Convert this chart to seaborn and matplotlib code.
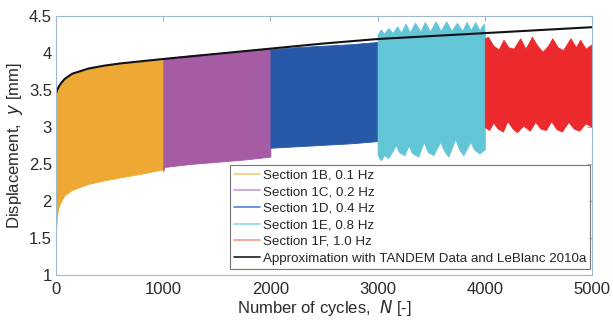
import matplotlib
matplotlib.use("Agg")
import matplotlib.pyplot as plt
from matplotlib.lines import Line2D
import numpy as np
import seaborn as sns

# approximation curve (TANDEM + LeBlanc 2010a)
approx_n = [0, 10, 20, 40, 80, 150, 300, 450, 600, 800, 1000, 1500, 2000,
            2500, 3000, 3500, 4000, 4500, 5000]
approx_y = [3.45, 3.50, 3.53, 3.58, 3.65, 3.72, 3.79, 3.83, 3.86, 3.89,
            3.92, 3.99, 4.06, 4.13, 4.19, 4.23, 4.27, 4.31, 4.35]

# section envelopes (upper / lower of the oscillating signal)
b_n = [0, 10, 20, 40, 80, 150, 300, 450, 600, 800, 1000]
b_hi = [3.45, 3.50, 3.53, 3.58, 3.65, 3.72, 3.79, 3.83, 3.86, 3.89, 3.92]
b_lo = [1.60, 1.80, 1.90, 1.98, 2.08, 2.15, 2.23, 2.28, 2.32, 2.37, 2.43]

c_n = [1000, 1010, 1250, 1500, 1750, 2000]
c_hi = [3.92, 3.93, 3.97, 4.00, 4.03, 4.07]
c_lo = [2.40, 2.46, 2.50, 2.53, 2.56, 2.60]

d_n = [2000, 2250, 2500, 2750, 3000]
d_hi = [4.05, 4.08, 4.10, 4.12, 4.15]
d_lo = [2.72, 2.74, 2.76, 2.78, 2.81]

e_n_hi = [3000, 3030, 3060, 3100, 3140, 3180, 3220, 3260, 3300, 3350, 3400, 3440,
          3490, 3540, 3590, 3640, 3690, 3740, 3790, 3830, 3870, 3910, 3950, 3990, 4000]
e_hi = [4.25, 4.32, 4.26, 4.34, 4.27, 4.36, 4.28, 4.40, 4.28, 4.41, 4.29, 4.42,
        4.29, 4.43, 4.30, 4.43, 4.30, 4.41, 4.30, 4.42, 4.31, 4.42, 4.31, 4.40, 4.28]
e_n_lo = [3000, 3030, 3060, 3100, 3150, 3170, 3200, 3250, 3290, 3320, 3380, 3430,
          3470, 3520, 3585, 3620, 3660, 3725, 3760, 3800, 3865, 3900, 3950, 4000]
e_lo = [2.62, 2.55, 2.62, 2.58, 2.70, 2.76, 2.66, 2.62, 2.75, 2.65, 2.60, 2.80,
        2.66, 2.62, 2.80, 2.68, 2.60, 2.84, 2.70, 2.62, 2.80, 2.70, 2.64, 2.70]

f_n_hi = [4000, 4030, 4080, 4130, 4175, 4220, 4270, 4330, 4380, 4440, 4490, 4540,
          4590, 4630, 4680, 4730, 4800, 4850, 4890, 4940, 5000]
f_hi = [4.20, 4.22, 4.10, 4.05, 4.18, 4.08, 4.06, 4.20, 4.06, 4.22, 4.10, 4.02,
        4.10, 4.20, 4.08, 4.04, 4.20, 4.08, 4.18, 4.06, 4.12]
f_n_lo = [4000, 4040, 4080, 4120, 4170, 4210, 4260, 4300, 4360, 4420, 4470, 4520,
          4570, 4620, 4670, 4720, 4780, 4830, 4880, 4940, 5000]
f_lo = [3.00, 2.96, 3.06, 2.98, 2.94, 3.08, 2.98, 2.93, 3.02, 2.95, 3.07, 2.98,
        2.96, 3.08, 2.97, 2.94, 3.07, 2.98, 2.95, 3.05, 3.00]

labels = ["Section 1B, 0.1 Hz", "Section 1C, 0.2 Hz", "Section 1D, 0.4 Hz",
          "Section 1E, 0.8 Hz", "Section 1F, 1.0 Hz",
          "Approximation with TANDEM Data and LeBlanc 2010a"]
fill_colors = ["#EDA933", "#A65BA5", "#2858A8", "#62C6D6", "#EC2A2D"]
legend_colors = ["#F3C97C", "#C79DD3", "#4F86D2", "#8ADAEA", "#F49A8C", "#1A1A24"]

sns.set_style("white")
plt.rcParams["font.family"] = ["Liberation Sans", "DejaVu Sans"]
frame_col = "#9DB8CF"

fig = plt.figure(figsize=(6.13, 3.22), dpi=100)
ax = fig.add_axes([0.0914, 0.146, 0.8743, 0.804])


def interp_env(n_hi, hi, n_lo, lo):
    # common grid from the read envelope points
    grid = sorted(set(n_hi) | set(n_lo))
    return grid, np.interp(grid, n_hi, hi), np.interp(grid, n_lo, lo)


sections = [
    (b_n, b_hi, b_n, b_lo),
    (c_n, c_hi, c_n, c_lo),
    (d_n, d_hi, d_n, d_lo),
    (e_n_hi, e_hi, e_n_lo, e_lo),
    (f_n_hi, f_hi, f_n_lo, f_lo),
]
for (nh, h, nl, l), col in zip(sections, fill_colors):
    g, hh, ll = interp_env(nh, h, nl, l)
    ax.fill_between(g, ll, hh, color=col, lw=0.6, edgecolor=col)

sns.lineplot(x=approx_n, y=approx_y, color="#111118", lw=1.5, ax=ax)

ax.set_xlim(0, 5000)
ax.set_ylim(1, 4.5)
ax.set_xticks([0, 1000, 2000, 3000, 4000, 5000])
ax.set_yticks([1, 1.5, 2, 2.5, 3, 3.5, 4, 4.5])
ax.set_yticklabels(["1", "1.5", "2", "2.5", "3", "3.5", "4", "4.5"])
ax.tick_params(direction="in", length=3.5, width=0.8, color=frame_col,
               labelsize=12, labelcolor="#2a2a2a", top=True, right=True)
ax.tick_params(axis="y", pad=3)
ax.tick_params(axis="x", pad=5)
for s in ax.spines.values():
    s.set_color(frame_col)
    s.set_linewidth(0.8)

ax.set_xlabel("Number of cycles,  $\\it{N}$ [-]", fontsize=12, color="#2a2a2a", labelpad=1)
ax.set_ylabel("Displacement,  $\\it{y}$ [mm]", fontsize=12, color="#2a2a2a")
ax.yaxis.set_label_coords(-0.058, 0.5)

handles = [Line2D([], [], color=c, lw=1.2) for c in legend_colors]
leg = ax.legend(handles, labels, loc="lower right", bbox_to_anchor=(0.997, 0.025),
                fontsize=9.6, frameon=True, fancybox=False, handlelength=2.0,
                handletextpad=0.2, labelspacing=0.32, borderpad=0.3,
                borderaxespad=0.0)
leg.get_frame().set_edgecolor("#555555")
leg.get_frame().set_linewidth(0.8)

fig.savefig("out.png", dpi=100)
